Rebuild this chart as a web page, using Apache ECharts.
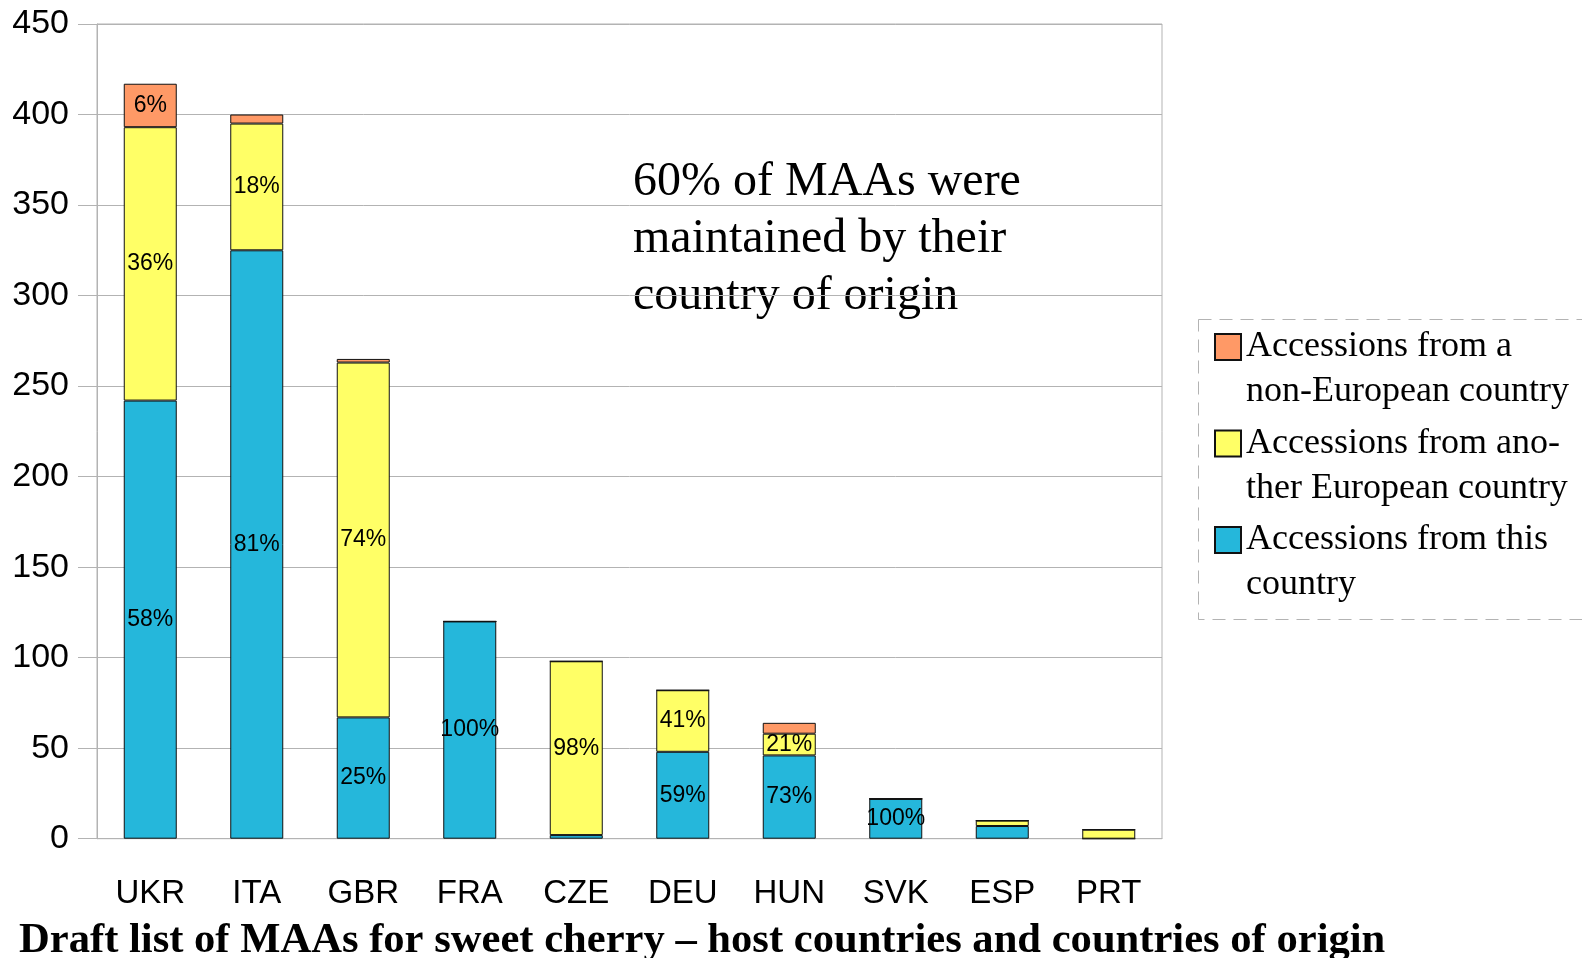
<!DOCTYPE html>
<html>
<head>
<meta charset="utf-8">
<title>MAAs sweet cherry</title>
<script src="https://cdn.jsdelivr.net/npm/echarts@6/dist/echarts.min.js"></script>
<style>
  html, body { margin: 0; padding: 0; background: #fff; }
  #chart { width: 1582px; height: 958px; }
</style>
</head>
<body>
<div id="chart"></div>
<script>
// host countries
var countries = ['UKR', 'ITA', 'GBR', 'FRA', 'CZE', 'DEU', 'HUN', 'SVK', 'ESP', 'PRT'];

// accessions per origin (stacked)
var fromThis = [242, 325, 67, 120, 2, 48, 46, 22, 7, 0];
var fromEurope = [151, 70, 196, 0, 96, 34, 12, 0, 3, 5];
var fromNonEurope = [24, 5, 2, 0, 0, 0, 6, 0, 0, 0];

// percentage labels shown inside the bars
var pctThis = ['58%', '81%', '25%', '100%', '', '59%', '73%', '100%', '', ''];
var pctEurope = ['36%', '18%', '74%', '', '98%', '41%', '21%', '', '', ''];
var pctNonEurope = ['6%', '', '', '', '', '', '', '', '', ''];

var yTicks = { min: 0, max: 450, interval: 50 };

var legendNames = [
    'Accessions from a\nnon-European country',
    'Accessions from ano-\nther European country',
    'Accessions from this\ncountry'
];

var sans = "'Liberation Sans', Arial, sans-serif";
var serif = "'Liberation Serif', 'Times New Roman', serif";
var gridGray = '#b3b3b3';

function initChart() {
    var chart = echarts.init(document.getElementById('chart'));

    function barLabel(texts) {
        return {
            show: true,
            position: 'inside',
            color: '#000',
            fontFamily: sans,
            fontSize: 23,
            formatter: function (p) { return texts[p.dataIndex]; }
        };
    }
    function barSeries(name, data, color, texts) {
        return {
            name: name,
            type: 'bar',
            stack: 'total',
            barWidth: 53,
            data: data,
            itemStyle: { color: color, borderColor: '#111', borderWidth: 1 },
            label: barLabel(texts),
            emphasis: { disabled: true }
        };
    }

    var option = {
        animation: false,
        backgroundColor: '#fff',
        title: {
            text: 'Draft list of MAAs for sweet cherry \u2013 host countries and countries of origin',
            left: 19,
            top: 919,
            padding: 0,
            textStyle: { fontFamily: serif, fontWeight: 'bold', fontSize: 42.6, lineHeight: 43, color: '#000' }
        },
        legend: {
            orient: 'vertical',
            left: 1214,
            top: 279.5,
            padding: 0,
            icon: 'rect',
            itemWidth: 26,
            itemHeight: 26,
            itemGap: -38.5,
            textGap: 14,
            selectedMode: false,
            data: legendNames,
            // leading empty line keeps the marker level with the first text line
            formatter: function (name) { return '\n' + name; },
            textStyle: {
                fontFamily: serif,
                fontSize: 36,
                lineHeight: 45,
                color: '#000'
            }
        },
        grid: {
            left: 97,
            right: 420,
            top: 24,
            bottom: 119.3,
            show: true,
            borderColor: gridGray,
            borderWidth: 1
        },
        xAxis: {
            type: 'category',
            data: countries,
            axisLine: { lineStyle: { color: gridGray } },
            axisTick: { alignWithLabel: true, length: 19, lineStyle: { color: gridGray } },
            axisLabel: { color: '#000', fontFamily: sans, fontSize: 33, margin: 39 }
        },
        yAxis: {
            type: 'value',
            min: yTicks.min,
            max: yTicks.max,
            interval: yTicks.interval,
            axisLine: { show: true, lineStyle: { color: gridGray } },
            axisTick: { show: true, length: 19, lineStyle: { color: gridGray } },
            axisLabel: { color: '#000', fontFamily: sans, fontSize: 34, margin: 28 },
            splitLine: { lineStyle: { color: gridGray } }
        },
        graphic: [
            {
                type: 'rect',
                left: 1196,
                top: 317,
                shape: { width: 420, height: 300 },
                style: { fill: null, stroke: gridGray, lineWidth: 1, lineDash: [13, 8] },
                silent: true
            },
            {
                type: 'text',
                left: 633,
                top: 154,
                style: {
                    text: '60% of MAAs were\nmaintained by their\ncountry of origin',
                    fontFamily: serif,
                    fontSize: 48,
                    lineHeight: 57,
                    fill: '#000'
                },
                silent: true
            }
        ],
        series: [
            barSeries(legendNames[2], fromThis, '#25b7db', pctThis),
            barSeries(legendNames[1], fromEurope, '#ffff66', pctEurope),
            barSeries(legendNames[0], fromNonEurope, '#ff9966', pctNonEurope)
        ]
    };
    chart.setOption(option);
}
initChart();
</script>
</body>
</html>
